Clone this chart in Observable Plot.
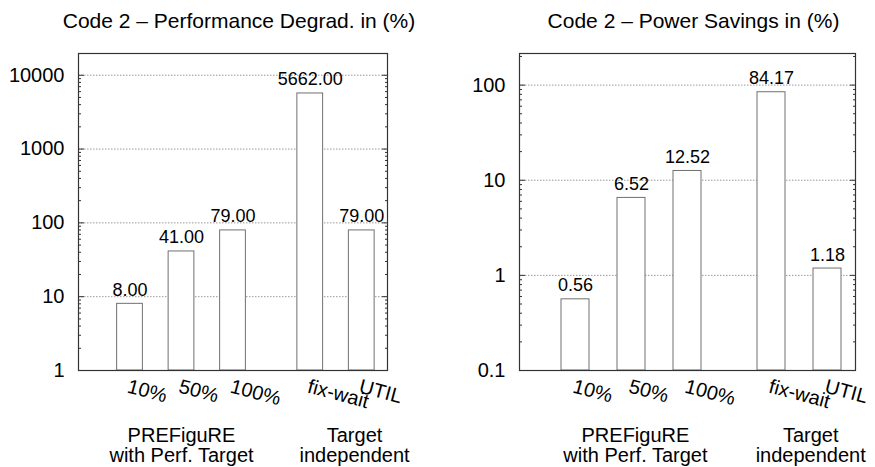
<!DOCTYPE html>
<html><head><meta charset="utf-8">
<script src="https://cdn.jsdelivr.net/npm/d3@7"></script>
<script src="https://cdn.jsdelivr.net/npm/@observablehq/plot@0.6"></script>
<style>
html,body{margin:0;padding:0;background:#fff;}
#wrap{display:flex;width:875px;height:467px;overflow:hidden;}
#wrap svg{display:block;}
</style></head><body><div id="wrap"></div>
<script>
// ---- data ----
const categories = ["10%", "50%", "100%", "fix-wait", "UTIL"];
const catPos = [1, 2, 3, 4.5, 5.5];
const perfDegrad = [8.00, 41.00, 79.00, 5662.00, 79.00];
const powerSavings = [0.56, 6.52, 12.52, 84.17, 1.18];
const perfTicks = [1, 10, 100, 1000, 10000];
const powerTicks = [0.1, 1, 10, 100];
const groupLabels = ["PREFiguRE\nwith Perf. Target", "Target\nindependent"];
const groupPosLeft = [2.0, 5.36];
const groupPosRight = [2.07, 5.2];
const titles = ["Code 2 \u2013 Performance Degrad. in (%)", "Code 2 \u2013 Power Savings in (%)"];

const FONT = "'Liberation Sans', Arial, Helvetica, sans-serif";

function minorTicks(domain) {
  const out = [];
  const lo = Math.floor(Math.log10(domain[0])), hi = Math.ceil(Math.log10(domain[1]));
  for (let e = lo; e <= hi; e++) {
    for (let k = 2; k <= 9; k++) {
      const v = k * Math.pow(10, e);
      if (v > domain[0] && v < domain[1]) out.push(v);
    }
  }
  return out;
}

function panel({width, marginLeft, marginRight, yDomain, ticks, title, values, groupPos}) {
  const rows = categories.map((c, i) => ({label: c, pos: catPos[i], value: values[i]}));
  const groups = groupLabels.map((g, i) => ({text: g, pos: groupPos[i]}));
  const minor = minorTicks(yDomain);
  const none = () => "";
  return Plot.plot({
    width, height: 467,
    marginLeft, marginRight, marginTop: 53, marginBottom: 97,
    style: {fontFamily: FONT, background: "#fff", color: "#000"},
    x: {domain: [0, 6], axis: null},
    y: {type: "log", domain: yDomain, axis: null},
    marks: [
      Plot.gridY(ticks, {stroke: "#9a9a9a", strokeOpacity: 1, strokeDasharray: "1.5,1.5"}),
      Plot.rect(rows, {x1: d => d.pos - 0.25, x2: d => d.pos + 0.25, y1: yDomain[0], y2: "value",
        fill: "#fff", stroke: "#707070", strokeWidth: 1}),
      Plot.axisY(ticks, {anchor: "left", label: null, tickSize: 0, tickPadding: 14, fontSize: 20, tickFormat: d => String(d)}),
      Plot.axisY(ticks, {anchor: "left", label: null, tickSize: -6, tickFormat: none, stroke: "#333"}),
      Plot.axisY(ticks, {anchor: "right", label: null, tickSize: -6, tickFormat: none, stroke: "#333"}),
      Plot.axisY(minor, {anchor: "left", label: null, tickSize: -3, tickFormat: none, stroke: "#333"}),
      Plot.axisY(minor, {anchor: "right", label: null, tickSize: -3, tickFormat: none, stroke: "#333"}),
      Plot.frame({stroke: "#333", strokeWidth: 1.2}),
      Plot.text(rows, {x: "pos", y: "value", text: d => d.value.toFixed(2), dy: -8,
        lineAnchor: "bottom", fontSize: 18, fill: "#000"}),
      Plot.text(rows, {x: "pos", text: "label", frameAnchor: "bottom", dy: 8, lineAnchor: "top",
        textAnchor: "start", rotate: 15, fontSize: 20, fill: "#000"}),
      Plot.text(groups, {x: "pos", text: "text", frameAnchor: "bottom", dy: 57, lineAnchor: "top",
        lineHeight: 1.0, fontSize: 20, fill: "#000"}),
      Plot.text([title], {frameAnchor: "top", dy: -40, dx: 6, lineAnchor: "top", fontSize: 21, fill: "#000"})
    ]
  });
}

const wrap = document.getElementById("wrap");
wrap.append(panel({width: 438, marginLeft: 78, marginRight: 51, yDomain: [1, 19700], ticks: perfTicks,
  title: titles[0], values: perfDegrad, groupPos: groupPosLeft}));
wrap.append(panel({width: 437, marginLeft: 81, marginRight: 20, yDomain: [0.1, 215], ticks: powerTicks,
  title: titles[1], values: powerSavings, groupPos: groupPosRight}));
</script></body></html>
